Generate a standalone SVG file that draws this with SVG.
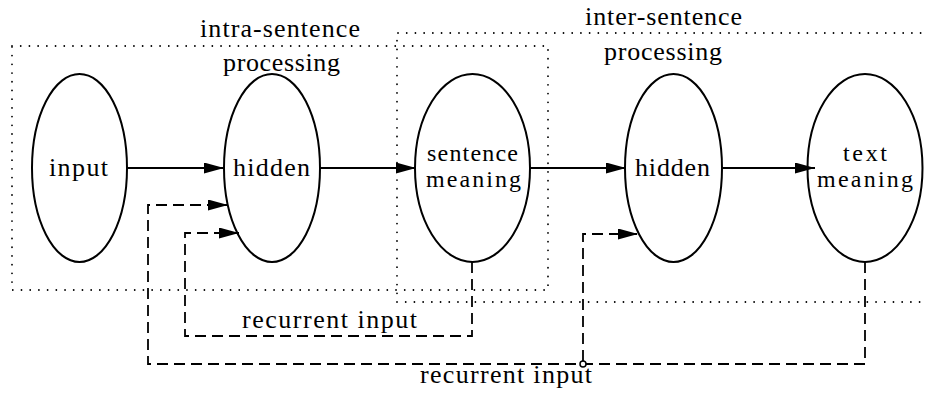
<svg xmlns="http://www.w3.org/2000/svg" width="925" height="395" viewBox="0 0 925 395">
  <style>
    text { font-family: "Liberation Serif", "DejaVu Serif", serif; font-size: 26px; fill: #000; }
    text.two-line { font-size: 24px; }
    .node { fill: none; stroke: #000; stroke-width: 2; }
    .region { fill: none; stroke: #000; stroke-width: 1.8; stroke-linecap: round; stroke-dasharray: 0.01 8.7; }
    .flow { fill: none; stroke: #000; stroke-width: 1.8; }
    .feedback { fill: none; stroke: #000; stroke-width: 1.8; stroke-dasharray: 11 6; }
  </style>
  <defs>
    <marker id="arrow" viewBox="0 0 20 11" refX="20" refY="5.5" markerWidth="20" markerHeight="11" markerUnits="userSpaceOnUse" orient="auto">
      <path d="M0,0 L20,5.5 L0,11 Z" fill="#000"/>
    </marker>
  </defs>
  <rect width="925" height="395" fill="#fff"/>

  <!-- processing regions -->
  <g id="regions">
    <rect class="region" x="12" y="46" width="536" height="244"/>
    <path class="region" d="M397,302 V33 H925 M397,302 H925"/>
    <text x="200" y="37" textLength="160" lengthAdjust="spacing">intra-sentence</text>
    <text x="223" y="71" textLength="117" lengthAdjust="spacing">processing</text>
    <text x="585" y="25" textLength="157" lengthAdjust="spacing">inter-sentence</text>
    <text x="604" y="60" textLength="118" lengthAdjust="spacing">processing</text>
  </g>

  <!-- nodes -->
  <g id="input">
    <ellipse class="node" cx="79.5" cy="168" rx="47.5" ry="94"/>
    <text x="49" y="176" textLength="59" lengthAdjust="spacing">input</text>
  </g>
  <g id="hidden-intra">
    <ellipse class="node" cx="272" cy="168" rx="48" ry="94"/>
    <text x="233" y="176" textLength="77" lengthAdjust="spacing">hidden</text>
  </g>
  <g id="sentence-meaning">
    <ellipse class="node" cx="472.5" cy="168" rx="57.5" ry="94"/>
    <text class="two-line" x="427" y="161" textLength="91" lengthAdjust="spacing">sentence</text>
    <text class="two-line" x="426" y="187" textLength="95" lengthAdjust="spacing">meaning</text>
  </g>
  <g id="hidden-inter">
    <ellipse class="node" cx="673.5" cy="168" rx="48.5" ry="94"/>
    <text x="635" y="176" textLength="75" lengthAdjust="spacing">hidden</text>
  </g>
  <g id="text-meaning">
    <ellipse class="node" cx="865" cy="168" rx="57.5" ry="94"/>
    <text class="two-line" x="843" y="161" textLength="44" lengthAdjust="spacing">text</text>
    <text class="two-line" x="817" y="187" textLength="96" lengthAdjust="spacing">meaning</text>
  </g>

  <!-- connectors -->
  <g id="connectors">
    <line class="flow" x1="127" y1="168" x2="224" y2="168" marker-end="url(#arrow)"/>
    <line class="flow" x1="320" y1="168" x2="416" y2="168" marker-end="url(#arrow)"/>
    <line class="flow" x1="530" y1="168" x2="626" y2="168" marker-end="url(#arrow)"/>
    <line class="flow" x1="722" y1="168" x2="815" y2="168" marker-end="url(#arrow)"/>

    <path class="feedback" d="M472,262 V336 H185 V233 H239" marker-end="url(#arrow)"/>
    <path class="feedback" d="M865,262 V364 H148 V205 H228" marker-end="url(#arrow)"/>
    <path class="feedback" d="M583,361 V234 H638" marker-end="url(#arrow)"/>
    <circle cx="583" cy="364" r="3" fill="#fff" stroke="#000" stroke-width="1.5"/>

    <text x="242" y="328" textLength="175" lengthAdjust="spacing">recurrent input</text>
    <text x="420" y="383" textLength="172" lengthAdjust="spacing">recurrent input</text>
  </g>
</svg>
